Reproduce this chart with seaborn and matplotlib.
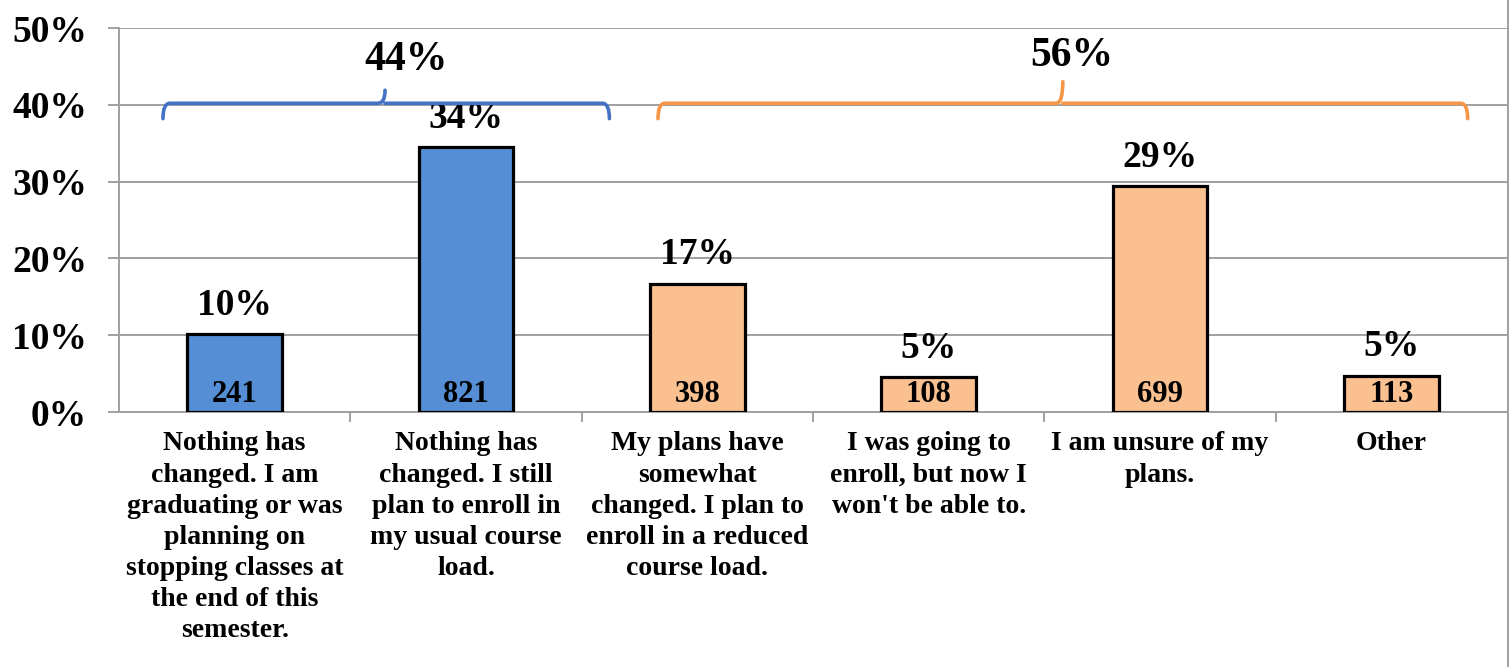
import matplotlib
matplotlib.use("Agg")
import matplotlib.pyplot as plt
from matplotlib.path import Path
from matplotlib.patches import PathPatch
from matplotlib.lines import Line2D
from matplotlib.ticker import FixedLocator, PercentFormatter
import seaborn as sns
import pandas as pd

# data
categories = [
    "Nothing has\nchanged. I am\ngraduating or was\nplanning on\nstopping classes at\nthe end of this\nsemester.",
    "Nothing has\nchanged. I still\nplan to enroll in\nmy usual course\nload.",
    "My plans have\nsomewhat\nchanged. I plan to\nenroll in a reduced\ncourse load.",
    "I was going to\nenroll, but now I\nwon't be able to.",
    "I am unsure of my\nplans.",
    "Other",
]
percents = [10.1, 34.5, 16.7, 4.5, 29.4, 4.7]
counts = [241, 821, 398, 108, 699, 113]
pct_labels = ["10%", "34%", "17%", "5%", "29%", "5%"]
groups = ["no change", "no change", "change", "change", "change", "change"]
group_labels = ["44%", "56%"]

bar_colors = {"no change": "#558ED5", "change": "#FAC090"}
brace_colors = ["#4472C4", "#F79646"]

sns.set_theme(style="white")
plt.rcParams["font.family"] = ["Liberation Serif", "DejaVu Serif"]
plt.rcParams["font.weight"] = "bold"
plt.rcParams["text.color"] = "black"
plt.rcParams["xtick.labelcolor"] = "black"
plt.rcParams["ytick.labelcolor"] = "black"

df = pd.DataFrame({"cat": categories, "pct": percents, "grp": groups})

fig = plt.figure(figsize=(15.1, 6.67), dpi=100)
ax = fig.add_axes([0.0788, 0.3823, 0.9192, 0.5757])

sns.barplot(data=df, x="cat", y="pct", hue="grp", palette=bar_colors,
            saturation=1, dodge=False, legend=False, width=0.41,
            edgecolor="black", linewidth=2.3, ax=ax, zorder=3)

ax.set_ylim(0, 50)
ax.set_xlim(-0.5, len(categories) - 0.5)
ax.yaxis.set_major_locator(FixedLocator([0, 10, 20, 30, 40, 50]))
ax.yaxis.set_major_formatter(PercentFormatter(decimals=0))
ax.grid(axis="y", color="#A0A0A0", linewidth=1.4, zorder=0)
ax.set_axisbelow(True)
ax.set_xlabel("")
ax.set_ylabel("")

for s in ["top", "right"]:
    ax.spines[s].set_visible(False)
for s in ["left", "bottom"]:
    ax.spines[s].set_color("#A0A0A0")
    ax.spines[s].set_linewidth(1.4)

ax.tick_params(axis="y", labelsize=27, length=8, width=1.4, color="#A0A0A0",
               direction="out", left=True, pad=15)
for t in ax.get_yticklabels():
    t.set_fontweight("bold")

# category labels at centres, tick marks at boundaries
ax.set_xticks(range(len(categories)))
ax.set_xticklabels(categories, fontsize=20, fontweight="bold",
                   linespacing=1.32, va="top")
ax.tick_params(axis="x", length=0, pad=14)
ax.xaxis.set_minor_locator(FixedLocator([i + 0.5 for i in range(len(categories) - 1)]))
ax.tick_params(axis="x", which="minor", length=7, width=1.4, color="#A0A0A0",
               bottom=True, direction="out")

for i, (v, lab, n) in enumerate(zip(percents, pct_labels, counts)):
    ax.annotate(lab, (i, v), xytext=(0, 14), textcoords="offset points",
                ha="center", va="baseline", fontsize=27, fontweight="bold")
    ax.text(i, 1.3, str(n), ha="center", va="baseline", fontsize=22,
            fontweight="bold", zorder=4)

# group braces
spans = [(-0.31, 1.62, 0.65, 41.9), (1.83, 5.33, 3.58, 43.0)]
label_y = [45.8, 46.4]
label_dx = [0.09, 0.04]
y_top, y_end, r = 40.2, 38.2, 0.03
for (x0, x1, xc, ytip), col, gl, ly, dx in zip(spans, brace_colors, group_labels,
                                               label_y, label_dx):
    verts = [
        (x0, y_end), (x0, y_top), (x0 + r, y_top),
        (xc - r, y_top), (xc, y_top), (xc, ytip),
        (xc, y_top), (xc + r, y_top),
        (x1 - r, y_top), (x1, y_top), (x1, y_end),
    ]
    codes = [Path.MOVETO, Path.CURVE3, Path.CURVE3,
             Path.LINETO, Path.CURVE3, Path.CURVE3,
             Path.MOVETO, Path.LINETO,
             Path.LINETO, Path.CURVE3, Path.CURVE3]
    ax.add_patch(PathPatch(Path(verts, codes), fill=False, edgecolor=col,
                           linewidth=2.6, capstyle="round", zorder=5,
                           clip_on=False))
    ax.text(xc + dx, ly, gl, ha="center", va="center", fontsize=30,
            fontweight="bold", zorder=5)

# outer chart border on the right
fig.add_artist(Line2D([0.9987, 0.9987], [0, 1], color="#A0A0A0",
                      linewidth=1.4, transform=fig.transFigure))

fig.savefig("out.png", dpi=100)
